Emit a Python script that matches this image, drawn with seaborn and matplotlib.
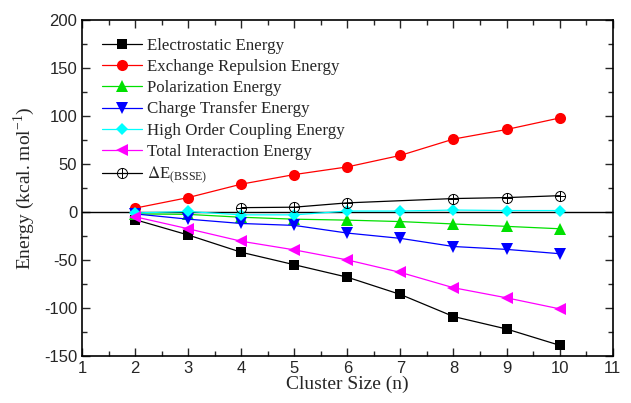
import numpy as np
import pandas as pd
import matplotlib
matplotlib.use('Agg')
import matplotlib.pyplot as plt
import seaborn as sns
from matplotlib.ticker import MultipleLocator

sns.set_style('ticks')
plt.rcParams['font.family'] = ['Liberation Sans', 'DejaVu Sans']
plt.rcParams['mathtext.fontset'] = 'stix'
plt.rcParams['axes.unicode_minus'] = False
SERIF = ['Liberation Serif', 'DejaVu Serif']

# cluster sizes
n = [2, 3, 4, 5, 6, 7, 8, 9, 10]
n_bsse = [4, 5, 6, 8, 9, 10]

# energies (kcal/mol)
electrostatic = [-8, -24, -42, -55, -68, -86, -109, -122, -139]
exchange = [4, 15, 29, 39, 47, 59, 76, 86, 98]
polarization = [-2, -2.5, -5.5, -7.5, -8.5, -10, -12.5, -15, -17.5]
charge_transfer = [-2, -7.5, -12, -14, -22, -27.5, -36, -39, -43.5]
high_order = [-1, 0.5, -3, -3, 1, 1, 2, 1.5, 1.5]
total = [-5, -17.5, -30.5, -39.5, -50, -63, -79, -89.5, -101]
bsse = [4.5, 5, 9.5, 14, 15, 17]

series = [
    ('Electrostatic Energy', n, electrostatic, 'black', 's', 7),
    ('Exchange Repulsion Energy', n, exchange, 'red', 'o', 8),
    ('Polarization Energy', n, polarization, '#00e000', '^', 8),
    ('Charge Transfer Energy', n, charge_transfer, 'blue', 'v', 8),
    ('High Order Coupling Energy', n, high_order, 'cyan', 'D', 6),
    ('Total Interaction Energy', n, total, 'magenta', '<', 8),
    (r'$\Delta$E$_{\mathregular{(BSSE)}}$', n_bsse, bsse, 'black', r'$\oplus$', 8),
]

fig, ax = plt.subplots(figsize=(6.31, 4.03), dpi=100)
fig.subplots_adjust(left=0.13, right=0.971, top=0.95, bottom=0.117)

ax.axhline(0, color='black', lw=1.0, zorder=1)

for label, xs, ys, color, marker, ms in series:
    df = pd.DataFrame({'n': xs, 'E': ys})
    sns.lineplot(data=df, x='n', y='E', ax=ax, color=color, lw=0.9,
                 marker=marker, markersize=ms, markeredgewidth=0,
                 markerfacecolor=color, label=label)

ax.set_xlim(1, 11)
ax.set_ylim(-150, 200)
ax.xaxis.set_major_locator(MultipleLocator(1))
ax.xaxis.set_minor_locator(MultipleLocator(0.5))
ax.yaxis.set_major_locator(MultipleLocator(50))
ax.yaxis.set_minor_locator(MultipleLocator(25))
ax.tick_params(which='both', direction='in', top=True, right=True, width=1,
               labelsize=12)
ax.tick_params(which='major', length=6)
ax.tick_params(which='minor', length=3.5)
for sp in ax.spines.values():
    sp.set_linewidth(1.2)
    sp.set_color('black')

ax.set_xlabel('Cluster Size (n)', fontsize=14, labelpad=0, family=SERIF)
ax.set_ylabel(r'Energy (kcal. mol$^{\mathregular{-1}}$)', fontsize=14,
              labelpad=5, family=SERIF)

ax.legend(loc='upper left', frameon=False,
          prop={'family': SERIF, 'size': 12.2}, handlelength=2.4,
          labelspacing=0.31, borderaxespad=0.3, handletextpad=0.3,
          borderpad=0.3, bbox_to_anchor=(0.018, 0.978))

fig.savefig('out.png', dpi=100)
